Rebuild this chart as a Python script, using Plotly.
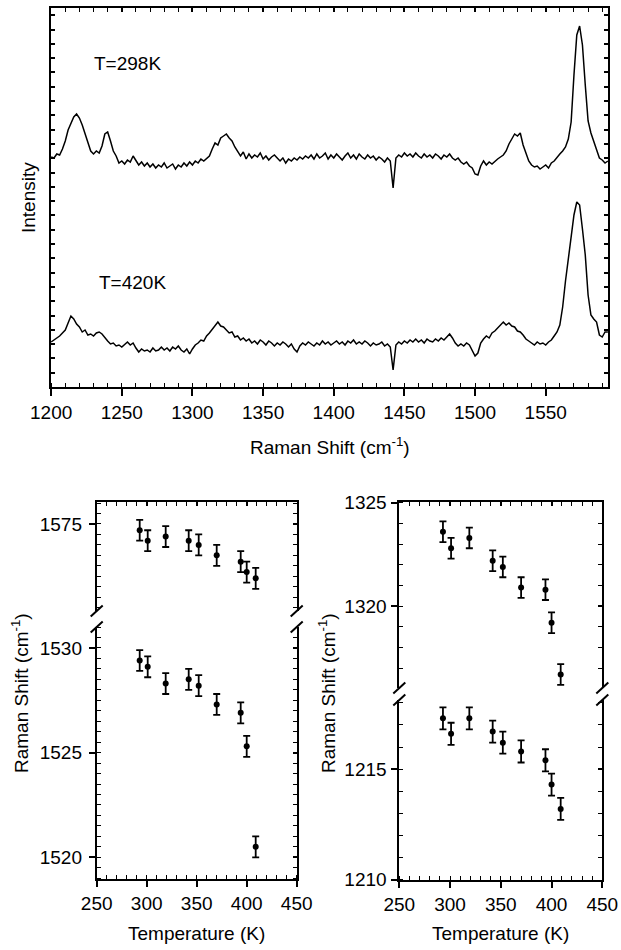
import plotly.graph_objects as go

W, H = 621, 950
FONT = "Arial, Liberation Sans, sans-serif"

# ---------------- data ----------------
wavenumber = list(range(1200, 1596, 2))  # cm-1 grid of the spectra

intensity_298K = [
    230, 229, 233, 232, 238, 246, 257, 264, 270, 273,
    269, 262, 254, 244, 236, 233, 236, 234, 241, 253,
    255, 246, 236, 231, 224, 226, 223, 227, 225, 231,
    226, 222, 225, 221, 224, 220, 223, 219, 222, 220,
    224, 219, 221, 223, 218, 222, 220, 224, 221, 225,
    222, 226, 224, 228, 226, 229, 231, 238, 244, 242,
    249, 251, 253, 249, 246, 240, 236, 231, 235, 228,
    233, 229, 232, 230, 234, 228, 231, 227, 230, 232,
    229, 226, 229, 224, 228, 226, 229, 227, 230, 228,
    231, 229, 232, 228, 233, 229, 231, 234, 228, 232,
    229, 233, 230, 227, 231, 234, 229, 232, 228, 233,
    230, 228, 232, 229, 231, 227, 230, 228, 225, 229,
    226, 199, 229, 232, 230, 234, 231, 233, 230, 234,
    231, 229, 233, 230, 232, 229, 233, 231, 228, 232,
    230, 233, 229, 227, 229, 225, 223, 225, 221, 219,
    213, 212, 221, 226, 222, 225, 223, 226, 228, 230,
    232, 236, 243, 248, 253, 251, 254, 242, 234, 226,
    222, 220, 221, 218, 220, 222, 219, 224, 226, 230,
    233, 236, 240, 248, 265, 312, 352, 361, 342, 302,
    266, 254, 246, 236, 229, 227, 224, 226,
]

intensity_420K = [
    45, 47, 49, 51, 54, 57, 64, 71, 68, 63,
    60, 55, 57, 52, 53, 51, 54, 55, 53, 49,
    46, 43, 44, 41, 42, 40, 43, 45, 42, 44,
    39, 35, 38, 36, 37, 35, 39, 36, 37, 40,
    37, 39, 36, 40, 38, 41, 37, 35, 38, 33,
    38, 42, 44, 47, 46, 51, 54, 58, 62, 65,
    61, 60, 57, 54, 55, 50, 51, 47, 49, 46,
    48, 44, 46, 43, 47, 45, 42, 46, 44, 41,
    44, 42, 45, 43, 40, 43, 38, 35, 41, 44,
    42, 45, 43, 41, 44, 42, 46, 43, 45, 42,
    44, 46, 43, 45, 42, 46, 44, 47, 43, 45,
    43, 46, 44, 41, 44, 42, 43, 45, 41, 43,
    40, 17, 42, 45, 43, 46, 44, 47, 45, 48,
    45, 47, 44, 48, 46, 45, 48, 46, 49, 47,
    50, 53, 49, 44, 41, 43, 41, 44, 42, 36,
    31, 34, 44, 48, 51, 49, 54, 56, 59, 61,
    65, 62, 64, 61, 60, 56, 55, 52, 48, 46,
    44, 42, 45, 43, 44, 42, 45, 47, 51, 55,
    62, 80, 106, 128, 152, 172, 185, 182, 158, 132,
    92, 72, 68, 65, 52, 50, 55, 55,
]

temperature = [293, 301, 319, 342, 352, 370, 394, 400, 409]
g_band = [1574.7, 1574.2, 1574.4, 1574.2, 1574.0, 1573.5, 1573.2, 1572.7, 1572.4]
g_band_low = [1529.4, 1529.1, 1528.3, 1528.5, 1528.2, 1527.3, 1526.9, 1525.3, 1520.5]
d_band = [1323.6, 1322.8, 1323.3, 1322.2, 1321.9, 1320.9, 1320.8, 1319.2, 1316.7]
d_band_low = [1217.3, 1216.6, 1217.3, 1216.7, 1216.2, 1215.8, 1215.4, 1214.3, 1213.2]
err = 0.5

# ---------------- helpers ----------------
def px(x):
    return x / W

def py(y):
    return 1 - y / H

LW = 1.8
TF = dict(family=FONT, size=19, color="black")


def base_axis(**kw):
    d = dict(showline=True, linecolor="black", linewidth=LW, showgrid=False,
             zeroline=False, tickcolor="black", tickwidth=1.5, tickfont=TF,
             ticks="outside", ticklen=6, automargin=False)
    d.update(kw)
    return d


def side_axis(**kw):
    d = dict(showline=True, linecolor="black", linewidth=LW, showgrid=False,
             zeroline=False, tickcolor="black", tickwidth=1.5,
             ticks="inside", ticklen=5, showticklabels=False, automargin=False)
    d.update(kw)
    return d


def minor(dtick, tick0):
    return dict(ticks="inside", ticklen=4, tickcolor="black", tickwidth=1.3,
                tickmode="linear", dtick=dtick, tick0=tick0, showgrid=False)


fig = go.Figure()


def dummy(xa, ya, xr, yr):
    # invisible trace so that the framing axis gets its own subplot
    fig.add_trace(go.Scatter(x=xr, y=yr, mode="markers", xaxis=xa, yaxis=ya,
                             marker=dict(opacity=0, size=1), hoverinfo="skip",
                             showlegend=False))


# ---------------- top panel: spectra ----------------
fig.add_trace(go.Scatter(x=wavenumber, y=intensity_298K, mode="lines",
                         line=dict(color="black", width=1.5), xaxis="x", yaxis="y",
                         showlegend=False))
fig.add_trace(go.Scatter(x=wavenumber, y=intensity_420K, mode="lines",
                         line=dict(color="black", width=1.5), xaxis="x", yaxis="y",
                         showlegend=False))

xr_top = [1199.9, 1594.3]
yr_top = [0, 379]
x_dom_top = [px(51), px(608.3)]
y_dom_top = [py(387), py(8)]

# ---------------- bottom panels ----------------
xL = [px(96.7), px(296.7)]
xR = [px(399.3), px(602.3)]
yL_low = [py(879.3), py(627)]
yL_up = [py(611), py(502)]
yR_low = [py(880), py(700)]
yR_up = [py(688), py(502.3)]

rL_low = [1518.95, 1531.0]
rL_up = [1570.84, 1576.05]
rR_low = [1209.98, 1218.13]
rR_up = [1316.05, 1325.02]
xr_T = [250, 450]


def points(x, y, xa, ya):
    fig.add_trace(go.Scatter(
        x=x, y=y, mode="markers", xaxis=xa, yaxis=ya, showlegend=False,
        marker=dict(color="black", size=6),
        error_y=dict(type="constant", value=err, color="black", thickness=1.8, width=3.5),
        cliponaxis=False))


points(temperature, g_band_low, "x3", "y3")
points(temperature, g_band, "x4", "y4")
points(temperature, d_band_low, "x5", "y7")
points(temperature, d_band, "x6", "y8")

# framing (top / right) axes
dummy("x2", "y", xr_top, yr_top)
dummy("x", "y2", xr_top, yr_top)
dummy("x3", "y5", xr_T, rL_low)
dummy("x4", "y6", xr_T, rL_up)
dummy("x5", "y9", xr_T, rR_low)
dummy("x6", "y10", xr_T, rR_up)

fig.update_layout(
    template="none",
    width=W, height=H, margin=dict(l=0, r=0, t=0, b=0, pad=0),
    paper_bgcolor="white", plot_bgcolor="rgba(0,0,0,0)",
    font=dict(family=FONT, size=19, color="black"),
    showlegend=False,
    # top panel
    xaxis=base_axis(domain=x_dom_top, range=xr_top, anchor="y", tickmode="linear",
                    tick0=1200, dtick=50, ticklen=7, minor=minor(10, 1200)),
    xaxis2=side_axis(overlaying="x", side="top", anchor="y", range=xr_top,
                     tickmode="linear", tick0=1200, dtick=50, ticklen=4,
                     minor=minor(10, 1200)),
    yaxis=side_axis(domain=y_dom_top, range=yr_top, anchor="x", side="left",
                    tickmode="linear", tick0=0, dtick=14.3, ticklen=4),
    yaxis2=side_axis(overlaying="y", side="right", anchor="x", range=yr_top,
                     tickmode="linear", tick0=0, dtick=14.3, ticklen=4),
    # bottom-left
    xaxis3=base_axis(domain=xL, range=xr_T, anchor="y3", tickmode="linear",
                     tick0=250, dtick=50, minor=minor(10, 250)),
    xaxis4=side_axis(domain=xL, range=xr_T, anchor="y4", side="top",
                     tickmode="linear", tick0=250, dtick=50, ticklen=4,
                     minor=minor(10, 250)),
    yaxis3=base_axis(domain=yL_low, range=rL_low, anchor="x3", tickmode="linear",
                     tick0=1520, dtick=5, ticklabelstandoff=3, minor=minor(0.5, 1520)),
    yaxis4=base_axis(domain=yL_up, range=rL_up, anchor="x4", tickmode="linear",
                     tick0=1520, dtick=5, ticklabelstandoff=3, minor=minor(0.5, 1520)),
    yaxis5=side_axis(overlaying="y3", side="right", anchor="x3", range=rL_low,
                     tickmode="linear", tick0=1520, dtick=5, ticklen=4,
                     minor=minor(0.5, 1520)),
    yaxis6=side_axis(overlaying="y4", side="right", anchor="x4", range=rL_up,
                     tickmode="linear", tick0=1520, dtick=5, ticklen=4,
                     minor=minor(0.5, 1520)),
    # bottom-right
    xaxis5=base_axis(domain=xR, range=xr_T, anchor="y7", tickmode="linear",
                     tick0=250, dtick=50, minor=minor(10, 250)),
    xaxis6=side_axis(domain=xR, range=xr_T, anchor="y8", side="top",
                     tickmode="linear", tick0=250, dtick=50, ticklen=4,
                     minor=minor(10, 250)),
    yaxis7=base_axis(domain=yR_low, range=rR_low, anchor="x5", tickmode="linear",
                     tick0=1210, dtick=5, ticklabelstandoff=1, minor=minor(1, 1210)),
    yaxis8=base_axis(domain=yR_up, range=rR_up, anchor="x6", tickmode="linear",
                     tick0=1210, dtick=5, ticklabelstandoff=1, minor=minor(1, 1210)),
    yaxis9=side_axis(overlaying="y7", side="right", anchor="x5", range=rR_low,
                     tickmode="linear", tick0=1210, dtick=5, ticklen=4,
                     minor=minor(1, 1210)),
    yaxis10=side_axis(overlaying="y8", side="right", anchor="x6", range=rR_up,
                      tickmode="linear", tick0=1210, dtick=5, ticklen=4,
                      minor=minor(1, 1210)),
)

# ---------------- text ----------------
def ann(text, x, y, angle=0):
    fig.add_annotation(text=text, x=px(x), y=py(y), xref="paper", yref="paper",
                       showarrow=False, textangle=angle, font=TF,
                       xanchor="center", yanchor="middle")

ann("T=298K", 127, 63)
ann("T=420K", 132, 283)
ann("Raman Shift (cm<sup>-1</sup>)", 330, 446)
ann("Intensity", 28, 198, -90)
ann("Temperature (K)", 196.7, 933)
ann("Temperature (K)", 500.8, 933)
ann("Raman Shift (cm<sup>-1</sup>)", 20, 693, -90)
ann("Raman Shift (cm<sup>-1</sup>)", 327, 693, -90)

# ---------------- axis-break marks ----------------
def slash(xc, yc):
    fig.add_shape(type="line", xref="paper", yref="paper",
                  x0=px(xc - 6), y0=py(yc + 5.5), x1=px(xc + 6), y1=py(yc - 5.5),
                  line=dict(color="black", width=2))

for xc in (96.7, 296.7):
    slash(xc, 611)
    slash(xc, 627)
for xc in (399.3, 602.3):
    slash(xc, 688)
    slash(xc, 700)

fig.write_html("out.html",
               config={"displayModeBar": False},
               post_script="document.body.style.margin='0';"
                           "document.body.style.overflow='hidden';")
